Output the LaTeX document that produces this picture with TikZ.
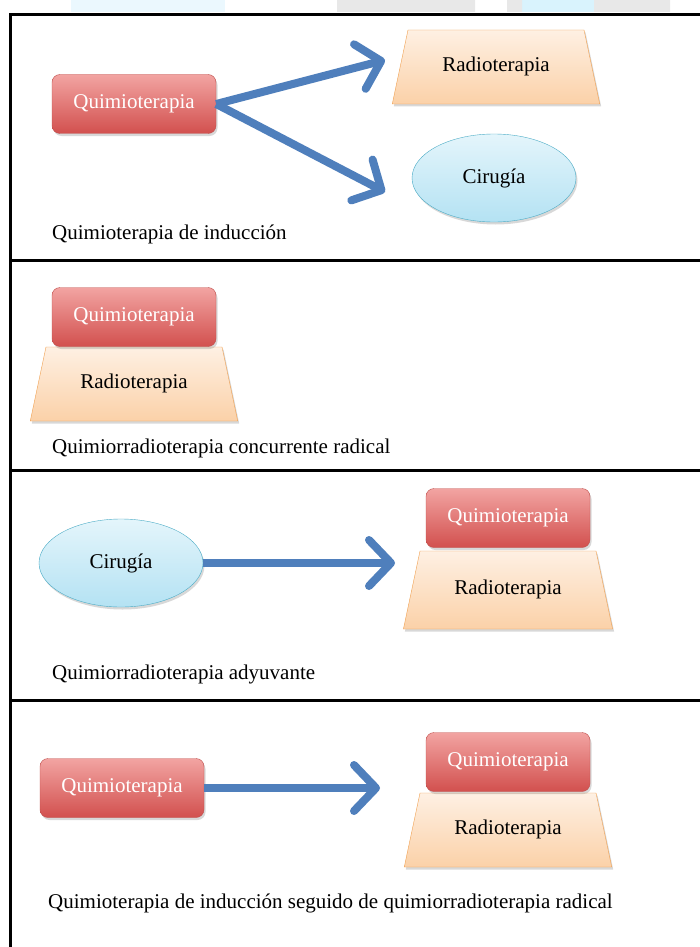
\documentclass[tikz,border=0pt]{standalone}
\usepackage{fontspec}
\setmainfont{Liberation Serif}
\usetikzlibrary{shapes.geometric, arrows.meta, shadows}

\definecolor{qtop}{HTML}{F2A4A2}
\definecolor{qbot}{HTML}{D2504E}
\definecolor{qline}{HTML}{C0504D}
\definecolor{rtop}{HTML}{FEF0E3}
\definecolor{rbot}{HTML}{FBD1A8}
\definecolor{rline}{HTML}{F0A050}
\definecolor{ctop}{HTML}{E4F5FB}
\definecolor{cbot}{HTML}{B4E2F3}
\definecolor{cline}{HTML}{4BACC6}
\definecolor{flowblue}{HTML}{4F7FBC}

\begin{document}
\begin{tikzpicture}[x=1pt,y=-1pt,
  every node/.style={font=\fontsize{21}{23}\selectfont},
  quimio/.style={draw=qline,rounded corners=8pt,top color=qtop,bottom color=qbot,
    text=white,minimum width=164pt,minimum height=59pt,
    drop shadow={shadow xshift=1.5pt,shadow yshift=-2.5pt,opacity=0.3}},
  radio/.style={trapezium,trapezium left angle=78,trapezium right angle=78,
    text height=14pt,text depth=5pt,inner xsep=0pt,inner ysep=27.5pt,text width=176pt,align=center,
    draw=rline,top color=rtop,bottom color=rbot,
    drop shadow={shadow xshift=1.5pt,shadow yshift=-2.5pt,opacity=0.3}},
  ciru/.style={ellipse,draw=cline,top color=ctop,bottom color=cbot,
    minimum width=164pt,minimum height=88pt,
    drop shadow={shadow xshift=1.5pt,shadow yshift=-2.5pt,opacity=0.3}},
  flow/.style={draw=flowblue,line width=8pt,
    -{Straight Barb[length=22pt,width=46pt,line width=8pt,round]}},
  caption/.style={anchor=west,inner sep=0pt}]
  \useasboundingbox (0,0) rectangle (700,947);
  \fill[white] (0,0) rectangle (700,947);
  % faint marks along the top edge
  \fill[cyan!8] (71,0) rectangle (225,12);
  \fill[cyan!15] (522,0) rectangle (594,12);
  \fill[black!9] (337,0) rectangle (475,12) (507,0) rectangle (522,12) (594,0) rectangle (670,12);
  % frame
  \draw[line width=3pt] (700,15) -- (10,15) -- (10,947);
  \draw[line width=3pt] (10,260) -- (700,260) (10,470) -- (700,470) (10,700) -- (700,700);

  % induccion
  \path (134,104) node[quimio] (q1) {Quimioterapia}
  (496,67) node[radio] (r1) {Radioterapia}
  (494,178) node[ciru] (c1) {Cirugía};
  \coordinate (t1) at (385,60);
  \coordinate (t2) at (385,192);
  \draw[flow] (q1.east) -- (t1);
  \draw[flow] (q1.east) -- (t2);
  \node[caption] (l1) at (52,234) {Quimioterapia de inducción};

  % concurrente
  \path (134,384) node[radio] (r2) {Radioterapia}
  (134,317) node[quimio] (q2) {Quimioterapia};
  \node[caption] (l2) at (52,448) {Quimiorradioterapia concurrente radical};

  % adyuvante
  \path (121,563) node[ciru] (c3) {Cirugía}
  (508,590) node[radio,inner ysep=29.5pt] (r3) {Radioterapia}
  (508,518) node[quimio] (q3) {Quimioterapia};
  \coordinate (t3) at (395,563);
  \draw[flow] (c3.east) -- (t3);
  \node[caption] (l3) at (52,674) {Quimiorradioterapia adyuvante};

  % induccion y radical
  \path (122,788) node[quimio] (q4) {Quimioterapia}
  (508,830) node[radio] (r5) {Radioterapia}
  (508,762) node[quimio] (q5) {Quimioterapia};
  \coordinate (t4) at (380,788);
  \draw[flow] (q4.east) -- (t4);
  \node[caption] (l4) at (48,903) {Quimioterapia de inducción seguido de quimiorradioterapia radical};
\end{tikzpicture}
\end{document}
